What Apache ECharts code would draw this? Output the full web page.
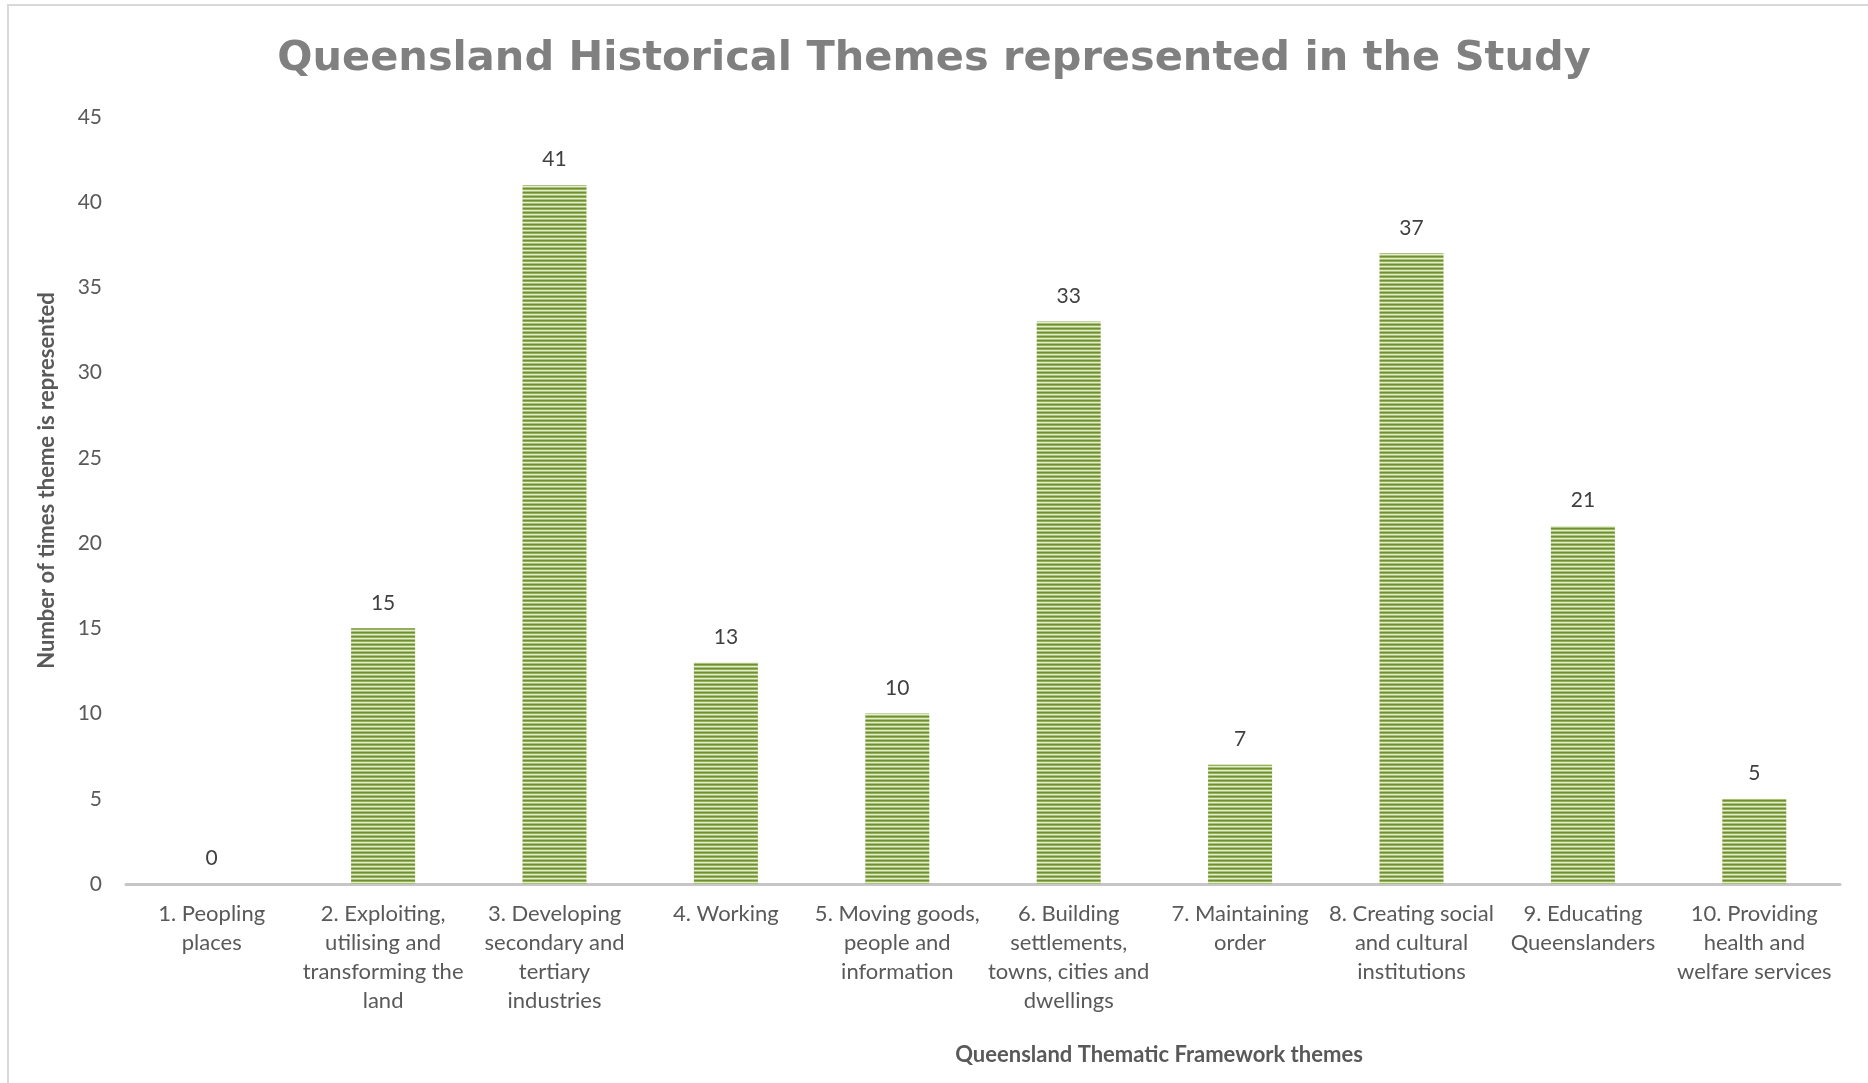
<!DOCTYPE html>
<html><head><meta charset="utf-8">
<script src="https://cdn.jsdelivr.net/npm/echarts@6/dist/echarts.min.js"></script>
<style>html,body{margin:0;padding:0;background:#fff}#c{width:1868px;height:1083px}</style>
</head><body><div id="c"></div>
<script>
const titleText = 'Queensland Historical Themes represented in the Study';
const categories = [
  '1. Peopling\nplaces',
  '2. Exploiting,\nutilising and\ntransforming the\nland',
  '3. Developing\nsecondary and\ntertiary\nindustries',
  '4. Working',
  '5. Moving goods,\npeople and\ninformation',
  '6. Building\nsettlements,\ntowns, cities and\ndwellings',
  '7. Maintaining\norder',
  '8. Creating social\nand cultural\ninstitutions',
  '9. Educating\nQueenslanders',
  '10. Providing\nhealth and\nwelfare services'
];
const values = [0, 15, 41, 13, 10, 33, 7, 37, 21, 5];
const yAxisName = 'Number of times theme is represented';
const xAxisName = 'Queensland Thematic Framework themes';

// striped pattern
const pc = document.createElement('canvas');
pc.width = 4; pc.height = 4;
const pctx = pc.getContext('2d');
const rows = ['#6f8f30', '#93b05a', '#e4ecd2', '#a9c276'];
rows.forEach((c, i) => { pctx.fillStyle = c; pctx.fillRect(0, i, 4, 1); });

const chart = echarts.init(document.getElementById('c'), null, {renderer: 'canvas'});
chart.setOption({
  animation: false,
  backgroundColor: '#fff',
  title: {
    text: titleText,
    left: 'center',
    top: 33,
    textStyle: {fontFamily: 'DejaVu Sans', fontWeight: 'bold', fontSize: 41.5, color: '#808080'}
  },
  graphic: [{
    type: 'rect', shape: {x: 8, y: 5, width: 1900, height: 1100},
    style: {fill: 'none', stroke: '#d9d9d9', lineWidth: 2}, silent: true, z: -1
  }],
  grid: {left: 126, right: 28, top: 117, bottom: 199, containLabel: false},
  xAxis: {
    type: 'category',
    data: categories,
    axisLine: {lineStyle: {color: '#c6c6c6', width: 3}},
    axisTick: {show: false},
    axisLabel: {interval: 0, fontFamily: 'Lato', fontSize: 22, color: '#595959', lineHeight: 29, margin: 15},
    name: xAxisName,
    nameLocation: 'middle',
    nameGap: 160,
    nameTextStyle: {fontFamily: 'Lato', fontWeight: 'bold', fontSize: 22, color: '#595959', padding: [0, 0, 0, 352]}
  },
  yAxis: {
    type: 'value',
    min: 0, max: 45, interval: 5,
    splitLine: {show: false},
    axisLine: {show: false},
    axisTick: {show: false},
    axisLabel: {fontFamily: 'Lato', fontSize: 21, color: '#595959', margin: 24},
    name: yAxisName,
    nameLocation: 'middle',
    nameGap: 68,
    nameTextStyle: {fontFamily: 'Lato', fontWeight: 'bold', fontSize: 22, color: '#595959', padding: [0, 0, 0, 40]}
  },
  series: [{
    type: 'bar',
    data: values,
    barWidth: 64,
    itemStyle: {color: {image: pc, repeat: 'repeat'}},
    label: {show: true, position: 'top', distance: 15, fontFamily: 'Lato', fontSize: 21, color: '#404040'}
  }]
});
</script></body></html>
